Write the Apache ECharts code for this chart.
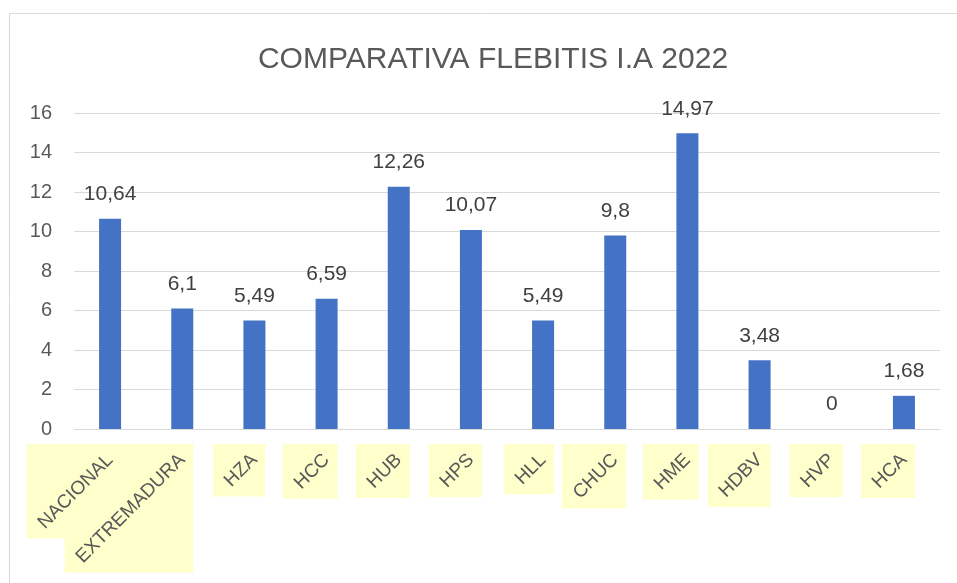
<!DOCTYPE html>
<html>
<head>
<meta charset="utf-8">
<script src="https://cdn.jsdelivr.net/npm/echarts@6/dist/echarts.min.js"></script>
<style>
html, body { margin: 0; padding: 0; background: #fff; }
#chart { width: 957px; height: 583px; }
</style>
</head>
<body>
<div id="chart"></div>
<script>
var categories = ['NACIONAL', 'EXTREMADURA', 'HZA', 'HCC', 'HUB', 'HPS', 'HLL', 'CHUC', 'HME', 'HDBV', 'HVP', 'HCA'];
var values = [10.64, 6.1, 5.49, 6.59, 12.26, 10.07, 5.49, 9.8, 14.97, 3.48, 0, 1.68];
var yTicks = [0, 2, 4, 6, 8, 10, 12, 14, 16];

var FONT = '"Liberation Sans", Arial, sans-serif';
var LABEL_SIZE = 19;

var chartDom = document.getElementById('chart');
var myChart = echarts.init(chartDom);

var measureCtx = document.createElement('canvas').getContext('2d');
measureCtx.font = LABEL_SIZE + 'px ' + FONT;

// yellow boxes behind the axis labels, sized from the label text
function boxItem(params, api) {
    var idx = api.value(0);
    var pt = api.coord([idx, 0]);
    var w = measureCtx.measureText(categories[idx]).width;
    var side = (w + LABEL_SIZE * 0.72) * Math.SQRT1_2 + 16;
    return {
        type: 'rect',
        shape: { x: pt[0] + 11 - side, y: pt[1] + 15, width: side, height: side },
        style: { fill: '#ffffcc' }
    };
}

var option = {
    animation: false,
    backgroundColor: '#fff',
    title: {
        text: 'COMPARATIVA FLEBITIS I.A 2022',
        left: 488,
        textAlign: 'center',
        top: 40,
        textStyle: { fontFamily: FONT, fontSize: 30, fontWeight: 'normal', color: '#595959' }
    },
    graphic: [{
        type: 'rect',
        shape: { x: 9.5, y: 13.5, width: 1000, height: 1000 },
        style: { fill: 'none', stroke: '#d9d9d9', lineWidth: 1 },
        silent: true
    }],
    grid: { left: 74, right: 17, top: 113, bottom: 154 },
    xAxis: {
        type: 'category',
        data: categories,
        z: 5,
        axisLine: { lineStyle: { color: '#d9d9d9', width: 1 } },
        axisTick: { show: false },
        axisLabel: {
            interval: 0,
            rotate: 45,
            margin: 28,
            fontFamily: FONT,
            fontSize: LABEL_SIZE,
            color: '#595959'
        }
    },
    yAxis: {
        type: 'value',
        min: yTicks[0],
        max: yTicks[yTicks.length - 1],
        interval: 2,
        axisLine: { show: false },
        axisTick: { show: false },
        splitLine: { lineStyle: { color: '#d9d9d9', width: 1 } },
        axisLabel: { margin: 22, fontFamily: FONT, fontSize: 20, color: '#595959' }
    },
    series: [
        {
            type: 'custom',
            z: 1,
            clip: false,
            silent: true,
            renderItem: boxItem,
            data: categories.map(function (c, i) { return [i, 0]; })
        },
        {
            type: 'bar',
            z: 2,
            data: values,
            barWidth: 22,
            itemStyle: { color: '#4472c4' },
            label: {
                show: true,
                position: 'top',
                distance: 14,
                fontFamily: FONT,
                fontSize: 21,
                color: '#404040',
                formatter: function (p) { return String(p.value).replace('.', ','); }
            }
        }
    ]
};
option && myChart.setOption(option);
</script>
</body>
</html>
